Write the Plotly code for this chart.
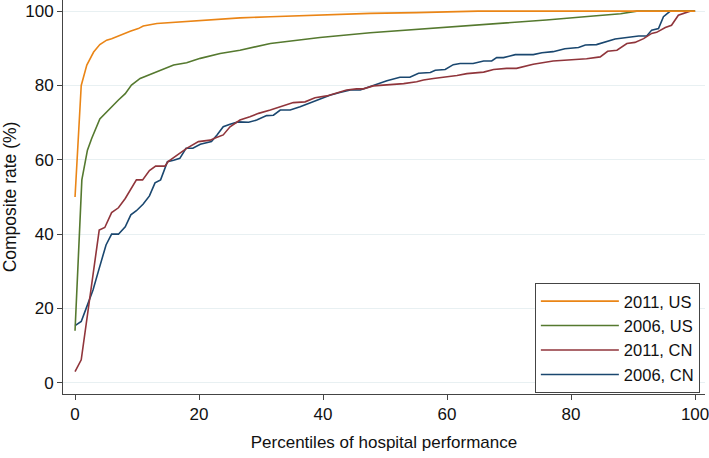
import plotly.graph_objects as go

# ---- data ----
us2011_x = [0, 1, 1.9, 3, 4, 5.1, 5.9, 7, 8.9, 10.2, 11, 13.2, 16.4, 20.2, 26.6, 31.5, 40, 47.6, 55, 62, 65, 100]
us2011_y = [50, 80, 85.5, 89, 91, 92.2, 92.6, 93.4, 94.6, 95.3, 96, 96.7, 97.1, 97.6, 98.2, 98.5, 99, 99.4, 99.6, 99.8, 100, 100]

us2006_x = [0, 1.1, 2, 2.7, 4, 5.6, 7, 8.1, 9.1, 10.5, 13.2, 15.9, 18, 20.2, 23.4, 26.6, 31.5, 39.5, 47.6, 56,
            67.5, 76, 83.6, 88, 90.6, 100]
us2006_y = [14, 54.6, 62.6, 65.8, 71, 73.8, 76.1, 77.8, 80.1, 81.9, 83.7, 85.5, 86.1, 87.3, 88.6, 89.5, 91.3, 92.9, 94.2, 95.2,
            96.7, 97.6, 98.7, 99.3, 100, 100]

cn2011_x = [0, 1, 3.9, 4.8, 5.9, 7, 8.1, 9.1, 9.9, 10.9, 12, 13, 14.5, 15, 16.1, 16.9, 18, 19.9, 21.8, 22.6, 23.9, 25,
            26.6, 28.2, 29.6, 31.5, 33.1, 35.2, 37.1, 38.7, 40.6, 42.2, 43.8, 45.4, 46.5, 48.1, 49.7, 51.3, 53, 55.1,
            56.2, 57.8, 60, 61.6, 63.2, 65.9, 67.5, 69.6, 71.2, 72.3, 73.9, 77.1, 79.8, 82.5, 84.7, 85.9, 87.4, 89,
            90.3, 91.7, 93, 93.8, 95.2, 96.2, 97.3, 98.7, 99.2, 100]
cn2011_y = [3, 6.2, 41.1, 41.8, 45.8, 47.1, 49.6, 52.3, 54.6, 54.6, 57.1, 58.3, 58.3, 59.5, 60.8, 61.6, 63.1, 64.9,
            65.3, 65.9, 66.7, 68.9, 70.7, 71.6, 72.5, 73.4, 74.3, 75.4, 75.6, 76.7, 77.2, 77.9, 78.8, 79.1, 79.1, 79.9,
            80.1, 80.4, 80.5, 81, 81.5, 81.9, 82.3, 82.7, 83.2, 83.6, 84.3, 84.6, 84.6, 85, 85.7, 86.6, 86.8, 87.2,
            87.7, 89.2, 89.5, 91.3, 91.6, 92.6, 94, 94.3, 95.6, 96.2, 98.9, 99.8, 100, 100]

cn2006_x = [0, 1, 1.9, 2.9, 3.9, 5, 5.9, 7, 8.1, 9, 9.9, 11, 12, 12.9, 13.8, 14.9, 15.9, 16.9, 17.9, 19, 20.2, 22,
            22.9, 23.9, 25, 26.3, 28, 29.3, 30.9, 32, 33.1, 34.7, 36.3, 37.9, 39.5, 41.1, 42.7, 44.4, 46, 48.1, 50.3,
            52.4, 54, 55.4, 57.3, 58.1, 59.7, 61, 62.1, 64.2, 65.9, 67.2, 68, 69.1, 71, 73.9, 75.3, 77.1, 79, 81.2,
            82.3, 84.1, 85.8, 87.1, 89, 90.9, 92.2, 93, 94.1, 94.9, 96, 100]
cn2006_y = [15.4, 16.5, 20.5, 25, 30.8, 37.1, 40, 40, 42, 45.2, 46.3, 48.1, 50.3, 53.8, 54.6, 59.5, 59.9, 60.4, 63.1,
            63.1, 64.2, 64.9, 66.7, 68.9, 69.6, 70.2, 70.1, 70.7, 71.9, 72, 73.4, 73.4, 74.3, 75.4, 76.5, 77.4, 78.1,
            78.8, 78.8, 80.1, 81.3, 82.2, 82.2, 83.3, 83.5, 84.1, 84.3, 85.6, 85.9, 85.9, 86.6, 86.6, 87.5, 87.5, 88.3,
            88.3, 88.8, 89.1, 89.9, 90.2, 90.9, 91, 91.8, 92.5, 92.9, 93.3, 93.3, 94.9, 95.3, 98.5, 100, 100]

# drawing order (bottom to top); legend order given by rank
series_names = ["2006, CN", "2011, CN", "2006, US", "2011, US"]
legend_order = ["2011, US", "2006, US", "2011, CN", "2006, CN"]
tick_vals = [0, 20, 40, 60, 80, 100]

colors = {"2011, US": "#ea8516", "2006, US": "#55792f", "2011, CN": "#90353b", "2006, CN": "#1a476f"}
data = {"2006, CN": (cn2006_x, cn2006_y), "2011, CN": (cn2011_x, cn2011_y),
        "2006, US": (us2006_x, us2006_y), "2011, US": (us2011_x, us2011_y)}

fig = go.Figure()
for name in series_names:
    xs, ys = data[name]
    fig.add_trace(go.Scatter(x=xs, y=ys, mode="lines", name=name, legendgroup=name,
                             legendrank=legend_order.index(name) + 1,
                             line=dict(color=colors[name], width=1.6)))

font = "Liberation Sans, Arial, sans-serif"
txt = "#111111"
fig.update_layout(
    width=709, height=458,
    margin=dict(l=63, r=4, t=0, b=64, autoexpand=False),
    paper_bgcolor="white", plot_bgcolor="white",
    font=dict(family=font, size=17, color=txt),
    showlegend=True,
    legend=dict(
        x=0.992, y=0.282, xanchor="right", yanchor="top",
        traceorder="grouped", tracegroupgap=0,
        bordercolor="#444444", borderwidth=1, bgcolor="white",
        itemwidth=78, font=dict(size=16.5, family=font, color=txt),
    ),
    xaxis=dict(
        range=[-1.94, 101.6], tickvals=tick_vals, ticktext=[str(v) for v in tick_vals],
        showgrid=False, zeroline=False, showline=True, linecolor="#444444", linewidth=1,
        ticks="outside", ticklen=5, tickcolor="#444444", automargin=False,
        ticklabeloverflow="allow",
        tickfont=dict(size=17, family=font, color=txt),
        title=dict(text="Percentiles of hospital performance", standoff=12,
                   font=dict(size=17, family=font, color=txt)),
    ),
    yaxis=dict(
        range=[-3, 103], tickvals=tick_vals, ticktext=[str(v) for v in tick_vals],
        showgrid=True, gridcolor="#e8f0f2", gridwidth=1,
        zeroline=False, showline=True, linecolor="#444444", linewidth=1,
        ticks="outside", ticklen=5, tickcolor="#444444", automargin=False,
        ticklabeloverflow="allow",
        tickfont=dict(size=17, family=font, color=txt),
        title=dict(text="Composite rate (%)", standoff=5,
                   font=dict(size=17.5, family=font, color=txt)),
    ),
)

# remove the browser's default 8px page margin so the figure sits at the window origin
fig.write_html("out.html", config={"displayModeBar": False},
               post_script="document.body.style.margin='0px';")
